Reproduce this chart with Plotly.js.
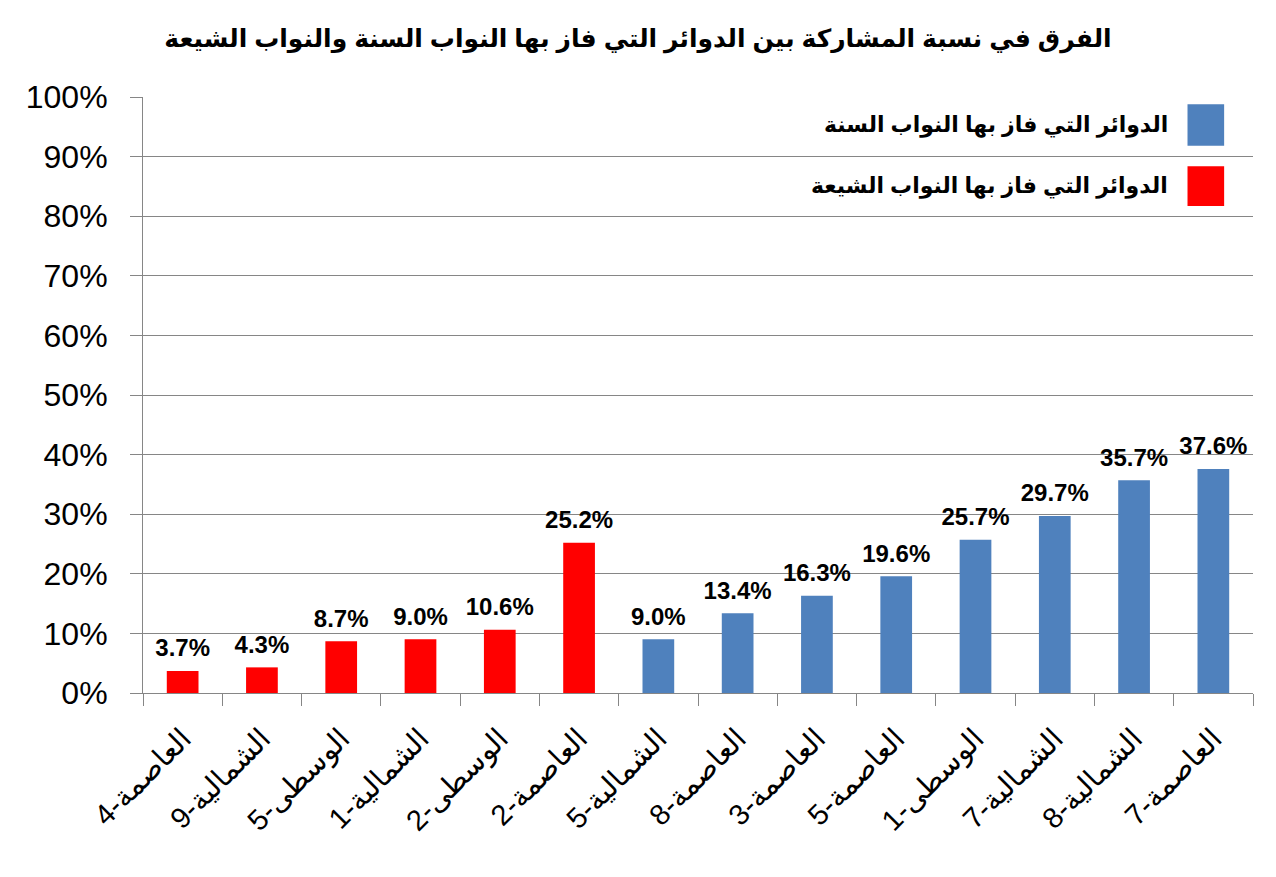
<!DOCTYPE html>
<html><head><meta charset="utf-8">
<script src="https://cdn.plot.ly/plotly-3.0.1.min.js"></script>
<style>html,body{margin:0;padding:0;background:#fff}</style>
</head><body>
<div id="chart" style="width:1276px;height:877px"></div>
<script>
const shiaCategories = ["العاصمة-4","الشمالية-9","الوسطى-5","الشمالية-1","الوسطى-2","العاصمة-2"];
const shiaValues = [3.7, 4.3, 8.7, 9.0, 10.6, 25.2];
const sunniCategories = ["الشمالية-5","العاصمة-8","العاصمة-3","العاصمة-5","الوسطى-1","الشمالية-7","الشمالية-8","العاصمة-7"];
const sunniValues = [9.0, 13.4, 16.3, 19.6, 25.7, 29.7, 35.7, 37.6];
const sunniName = "الدوائر التي فاز بها النواب السنة";
const shiaName = "الدوائر التي فاز بها النواب الشيعة";
const titleText = "الفرق في نسبة المشاركة بين الدوائر التي فاز بها النواب السنة والنواب الشيعة";
const sunniColor = "#4F81BD";
const shiaColor = "#FF0000";
const allCategories = shiaCategories.concat(sunniCategories);

const labelFont = {family: "Arial, 'Liberation Sans', 'DejaVu Sans', sans-serif", size: 24, color: "#000"};
const labelTemplate = "<b>%{y:.1f}%</b>";

function barTrace(name, cats, vals, color) {
  return {type: "bar", name: name, x: cats, y: vals, width: 0.4,
          marker: {color: color}, showlegend: false, hoverinfo: "x+y"};
}
function labelTrace(name, cats, vals) {
  return {type: "scatter", mode: "markers+text", name: name + " labels", x: cats, y: vals,
          texttemplate: labelTemplate, textposition: "top center", textfont: labelFont,
          marker: {size: 12, opacity: 0}, cliponaxis: false, showlegend: false, hoverinfo: "skip"};
}

const traces = [
  barTrace(sunniName, sunniCategories, sunniValues, sunniColor),
  barTrace(shiaName, shiaCategories, shiaValues, shiaColor),
  labelTrace(sunniName, sunniCategories, sunniValues),
  labelTrace(shiaName, shiaCategories, shiaValues)
];

const legendItems = [
  {name: sunniName, color: sunniColor, y0: 0.918, y1: 0.988},
  {name: shiaName, color: shiaColor, y0: 0.817, y1: 0.884}
];

const layout = {
  width: 1276, height: 877,
  margin: {l: 143, r: 23, t: 97, b: 184},
  paper_bgcolor: "#fff", plot_bgcolor: "#fff",
  barmode: "overlay",
  title: {text: "<b>" + titleText + "</b>", x: 0.5, xref: "container", xanchor: "center",
          y: 0.956, yref: "container", yanchor: "middle",
          font: {family: "Arial, 'DejaVu Sans', sans-serif", size: 25, color: "#000"}},
  xaxis: {type: "category", categoryorder: "array", categoryarray: allCategories,
          range: [-0.5, allCategories.length - 0.5], autorange: false,
          tickson: "boundaries", ticks: "outside", ticklen: 12, tickcolor: "#868686",
          showline: true, linecolor: "#868686", linewidth: 1, showgrid: false,
          ticklabelstandoff: 16,
          tickangle: -45, tickfont: {family: "Arial, 'DejaVu Sans', sans-serif", size: 29, color: "#000"}},
  yaxis: {range: [0, 100], autorange: false, dtick: 10, ticksuffix: "%", showgrid: true, gridcolor: "#868686", gridwidth: 1,
          showline: true, linecolor: "#868686", zeroline: false, ticks: "outside", ticklen: 12, tickcolor: "#868686",
          ticklabelstandoff: 16,
          tickfont: {family: "Arial, 'Liberation Sans', sans-serif", size: 32, color: "#000"}},
  shapes: legendItems.map(it => ({type: "rect", xref: "paper", yref: "paper",
          x0: 0.941, x1: 0.974, y0: it.y0, y1: it.y1, fillcolor: it.color, line: {width: 0}})),
  annotations: legendItems.map(it => ({xref: "paper", yref: "paper", x: 0.925, y: (it.y0 + it.y1) / 2,
          xanchor: "right", yanchor: "middle", showarrow: false, text: "<b>" + it.name + "</b>",
          font: {family: "Arial, 'DejaVu Sans', sans-serif", size: 22, color: "#000"}})),
  showlegend: false
};

Plotly.newPlot("chart", traces, layout, {displayModeBar: false, staticPlot: true});
</script>
</body></html>
